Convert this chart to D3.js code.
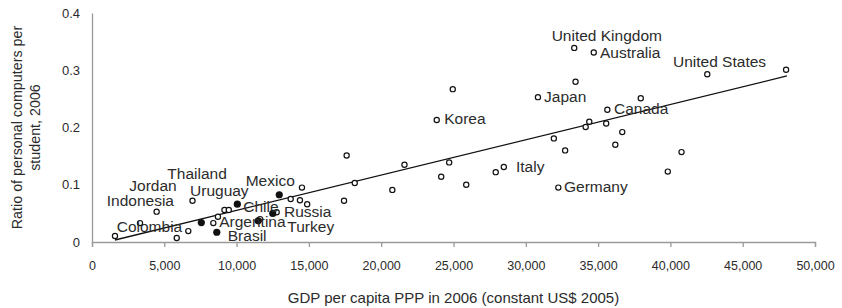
<!DOCTYPE html>
<html>
<head>
<meta charset="utf-8">
<script src="https://cdn.jsdelivr.net/npm/d3@7"></script>
<style>
  body { margin: 0; background: #fff; }
  text { font-family: "Liberation Sans", Arial, sans-serif; fill: #2b2b2b; }
</style>
</head>
<body>
<svg id="chart" width="842" height="308"></svg>
<script>
// GDP per capita PPP (US$) and PCs per student
var gdpOpen = [1590, 3320, 4470, 5860, 6660, 6950, 8390, 8710, 9160, 9460,
               11620, 12770, 13740, 14380, 14520, 14880, 17610, 17430, 18170, 20770,
               21610, 23840, 24150, 24700, 24950, 25880, 27920, 28480, 30840, 31940,
               32720, 32250, 33350, 33440, 34140, 34390, 34700, 35560, 35640, 36190,
               36670, 37950, 39820, 40770, 42550, 48000]
var ratioOpen = [0.0105, 0.033, 0.053, 0.007, 0.019, 0.072, 0.033, 0.044, 0.056, 0.056,
                 0.040, 0.052, 0.075, 0.073, 0.095, 0.066, 0.151, 0.072, 0.103, 0.091,
                 0.135, 0.213, 0.114, 0.139, 0.267, 0.100, 0.122, 0.131, 0.253, 0.181,
                 0.160, 0.095, 0.339, 0.280, 0.201, 0.210, 0.331, 0.207, 0.231, 0.170,
                 0.192, 0.251, 0.123, 0.157, 0.293, 0.301]

// the black dots
var gdpFilled = [7560, 8630, 10050, 11490, 12500, 12950]
var ratioFilled = [0.034, 0.017, 0.066, 0.037, 0.050, 0.0825]

// country names, placed at the spot where the text starts (left, baseline)
var labelNames = ['United Kingdom', 'Australia', 'United States', 'Japan', 'Canada',
                  'Korea', 'Italy', 'Germany', 'Thailand', 'Jordan', 'Indonesia',
                  'Uruguay', 'Mexico', 'Chile', 'Russia', 'Colombia', 'Argentina',
                  'Turkey', 'Brasil']
var labelGdp = [31790, 35130, 40180, 31260, 36100, 24360, 29320, 32640, 5210, 2580,
                1020, 6780, 10630, 10460, 13280, 1710, 8800, 13510, 9390]
var labelRatio = [0.351, 0.322, 0.305, 0.245, 0.223, 0.206, 0.122, 0.0865, 0.110, 0.089,
                  0.063, 0.080, 0.098, 0.0526, 0.0444, 0.018, 0.0258, 0.018, 0.0023]

// linear trend, two end points
var trendGdp = [1590, 48060]
var trendRatio = [0.0035, 0.290]

var xTicks = d3.range(0, 50001, 5000)
var yTicks = [0, 0.1, 0.2, 0.3, 0.4]

///////////////////////////////

var svg = d3.select('#chart')

var x = d3.scaleLinear().domain([0, 50000]).range([92, 815])
var y = d3.scaleLinear().domain([0, 0.4]).range([242, 13])

var xAxis = svg.append('g')
    .attr('transform', 'translate(0,' + y(0) + ')')
    .call(d3.axisBottom(x).tickValues(xTicks).tickFormat(d3.format(',')).tickSizeOuter(0).tickSize(5).tickPadding(14))
xAxis.select('.domain').attr('stroke', '#9a9a9a').attr('stroke-width', 1.3)
xAxis.selectAll('.tick line').attr('stroke', '#9a9a9a').attr('stroke-width', 1.3)
xAxis.selectAll('.tick text').style('font-size', '12.5px').attr('fill', '#2b2b2b')

var yAxis = svg.append('g')
    .attr('transform', 'translate(' + x(0) + ',0)')
    .call(d3.axisLeft(y).tickValues(yTicks).tickFormat(function(d){ return d === 0 ? '0' : d.toFixed(1) }).tickSizeOuter(0).tickSize(0).tickPadding(12))
yAxis.select('.domain').attr('stroke', '#9a9a9a').attr('stroke-width', 1.3)
yAxis.selectAll('.tick text').style('font-size', '13px').attr('fill', '#2b2b2b')

// axis titles
svg.append('text')
    .attr('x', (x(0) + x(50000)) / 2)
    .attr('y', 303)
    .attr('text-anchor', 'middle')
    .style('font-size', '15px')
    .text('GDP per capita PPP in 2006 (constant US$ 2005)')

var yTitle = svg.append('text')
    .attr('transform', 'translate(0,' + y(0.2) + ') rotate(-90)')
    .attr('text-anchor', 'middle')
    .style('font-size', '14.3px')
yTitle.append('tspan').attr('x', 0).attr('y', 22).text('Ratio of personal computers per')
yTitle.append('tspan').attr('x', 0).attr('y', 40).text('student, 2006')

// trend line
svg.append('line')
    .attr('x1', x(trendGdp[0])).attr('y1', y(trendRatio[0]))
    .attr('x2', x(trendGdp[1])).attr('y2', y(trendRatio[1]))
    .attr('stroke', '#111')
    .attr('stroke-width', 1.3)

// open circles
var openPts = gdpOpen.map(function(d, i){ return {gdp: d, ratio: ratioOpen[i]} })
svg.append('g').selectAll('circle')
    .data(openPts)
    .enter()
    .append('circle')
    .attr('cx', function(d){ return x(d.gdp) })
    .attr('cy', function(d){ return y(d.ratio) })
    .attr('r', 2.6)
    .attr('fill', '#fff')
    .attr('stroke', '#111')
    .attr('stroke-width', 1.2)

// filled dots
var filledPts = gdpFilled.map(function(d, i){ return {gdp: d, ratio: ratioFilled[i]} })
svg.append('g').selectAll('circle')
    .data(filledPts)
    .enter()
    .append('circle')
    .attr('cx', function(d){ return x(d.gdp) })
    .attr('cy', function(d){ return y(d.ratio) })
    .attr('r', 3.6)
    .attr('fill', '#111')

// country labels
var labels = labelNames.map(function(d, i){ return {name: d, gdp: labelGdp[i], ratio: labelRatio[i]} })
svg.append('g').selectAll('text')
    .data(labels)
    .enter()
    .append('text')
    .attr('x', function(d){ return x(d.gdp) })
    .attr('y', function(d){ return y(d.ratio) })
    .style('font-size', '15.5px')
    .text(function(d){ return d.name })
</script>
</body>
</html>
